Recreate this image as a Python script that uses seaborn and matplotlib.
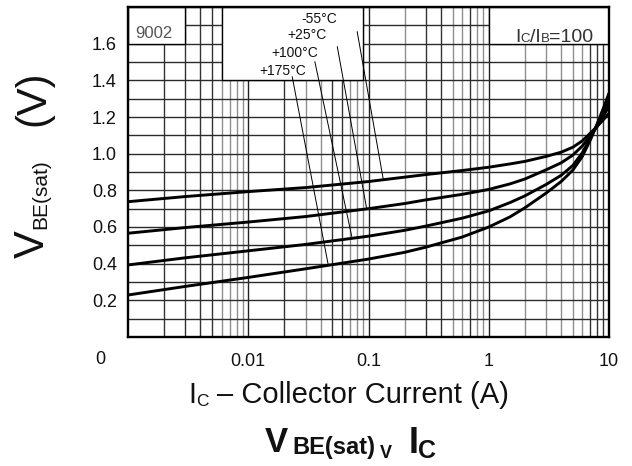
import numpy as np
import pandas as pd
import matplotlib
matplotlib.use("Agg")
import matplotlib.pyplot as plt
import seaborn as sns
from matplotlib.transforms import IdentityTransform
from matplotlib.patches import Rectangle
from matplotlib.ticker import LogLocator, NullFormatter, MultipleLocator

# ---------------- data ----------------
ic = [0.001, 0.003, 0.01, 0.03, 0.1, 0.2, 0.3, 0.6, 1, 1.5, 2, 3, 4, 5, 6, 7, 8, 9, 10]
v_m55 = [0.738, 0.766, 0.793, 0.815, 0.848, 0.872, 0.886, 0.908, 0.926, 0.944, 0.958,
         0.985, 1.008, 1.035, 1.070, 1.112, 1.150, 1.186, 1.220]
v_p25 = [0.566, 0.597, 0.627, 0.657, 0.700, 0.728, 0.748, 0.778, 0.805, 0.835, 0.862,
         0.912, 0.950, 0.992, 1.042, 1.097, 1.150, 1.205, 1.260]
v_p100 = [0.393, 0.432, 0.470, 0.505, 0.550, 0.582, 0.605, 0.648, 0.688, 0.733, 0.770,
          0.832, 0.882, 0.935, 1.005, 1.085, 1.160, 1.225, 1.290]
v_p175 = [0.229, 0.276, 0.325, 0.372, 0.425, 0.462, 0.490, 0.545, 0.600, 0.655, 0.705,
          0.785, 0.848, 0.910, 0.985, 1.075, 1.165, 1.250, 1.330]
temps = ["-55°C", "+25°C", "+100°C", "+175°C"]

x_ticks = [0.01, 0.1, 1, 10]
x_ticklabels = ["0.01", "0.1", "1", "10"]
y_ticks = [0.2, 0.4, 0.6, 0.8, 1.0, 1.2, 1.4, 1.6]
y_ticklabels = ["0.2", "0.4", "0.6", "0.8", "1.0", "1.2", "1.4", "1.6"]

# temperature label positions and leader lines (annotation layout)
label_xy = [(0.0389, 1.733), (0.0306, 1.648), (0.0244, 1.548), (0.0192, 1.453)]
leader_start = [(0.0805, 1.666), (0.055, 1.584), (0.0358, 1.502), (0.0232, 1.420)]
leader_end = [(0.1325, 0.862), (0.0964, 0.702), (0.0725, 0.549), (0.0462, 0.395)]

# ---------------- style ----------------
sns.set_style("white")
plt.rcParams["font.family"] = ["Liberation Sans", "DejaVu Sans"]
TXT = "#111111"

W, H = 632, 466
fig = plt.figure(figsize=(W / 100, H / 100), dpi=100)
fig.patch.set_facecolor("white")
ax = fig.add_axes([128 / W, 1 - 337 / H, (609 - 128) / W, (337 - 7) / H])

df = pd.DataFrame({
    "ic": ic * 4,
    "v": v_m55 + v_p25 + v_p100 + v_p175,
    "temp": np.repeat(temps, len(ic)),
})
sns.lineplot(data=df, x="ic", y="v", hue="temp", palette={t: "black" for t in temps},
             legend=False, errorbar=None, linewidth=2.1, ax=ax, zorder=5)
for ln in ax.lines:
    ln.set_solid_joinstyle("round")

ax.set_xscale("log")
ax.set_xlim(0.001, 10)
ax.set_ylim(0, 1.8)
ax.set_xlabel("")
ax.set_ylabel("")

ax.set_xticks(x_ticks, x_ticklabels)
ax.xaxis.set_minor_locator(LogLocator(base=10, subs=range(2, 10), numticks=50))
ax.xaxis.set_minor_formatter(NullFormatter())
ax.set_yticks(y_ticks, y_ticklabels)
ax.yaxis.set_minor_locator(MultipleLocator(0.1))

ax.tick_params(which="both", length=0)
ax.tick_params(axis="x", labelsize=13, pad=11.5, labelcolor=TXT)
ax.tick_params(axis="y", labelsize=13, pad=8, labelcolor=TXT)

ax.set_axisbelow(True)
ax.grid(which="major", axis="x", color="#222222", lw=1.0)
ax.grid(which="minor", axis="x", color="#8f8f8f", lw=1.0)
ax.grid(which="both", axis="y", color="#2b2b2b", lw=1.0)

# some minor vertical lines print darker in the reference
dark_minor = [0.002, 0.003, 0.004, 0.005, 0.02, 0.05, 0.06, 0.3, 0.4, 0.7, 7, 8, 9]
locs = ax.xaxis.get_minorticklocs()
mticks = ax.xaxis.get_minor_ticks(len(locs))
for loc, t in zip(locs, mticks):
    if any(np.isclose(loc, d) for d in dark_minor):
        t.gridline.set_color("#333333")

for s in ax.spines.values():
    s.set_visible(True)
    s.set_color("black")
    s.set_linewidth(1.7)
    s.set_zorder(10)

# white boxes in the top area
for (x0, y0, w, h) in [(0.001, 1.6, 0.002, 0.2), (0.006, 1.4, 0.084, 0.4), (1, 1.6, 9, 0.2)]:
    ax.add_patch(Rectangle((x0, y0), w, h, facecolor="white", edgecolor="black",
                           lw=1.0, zorder=3))

ax.text(0.00164, 1.658, "9002", fontsize=12, color="#555555", ha="center", va="center", zorder=7)

for t, (lx, ly), st, en in zip(temps, label_xy, leader_start, leader_end):
    ax.text(lx, ly, t, fontsize=10, color=TXT, ha="center", va="center", zorder=7)
    ax.annotate("", xy=en, xytext=st,
                arrowprops=dict(arrowstyle="-", lw=0.7, color="black",
                                shrinkA=0, shrinkB=0), zorder=6)

ax.text(-0.058, -0.068, "0", transform=ax.transAxes, fontsize=13, color=TXT,
        ha="center", va="center")


def ptext(x, y, s, size, weight="normal", rot=0, color=TXT):
    fig.text(x, H - y, s, transform=IdentityTransform(), fontsize=size,
             fontweight=weight, ha="left", va="baseline", rotation=rot,
             rotation_mode="anchor", color=color)


# Ic/Ib label
ptext(515, 42, "I", 14, color="#333333")
ptext(520.5, 42, "C", 9.5, color="#333333")
ptext(529.5, 42, "/I", 14, color="#333333")
ptext(540.5, 42, "B", 9.5, color="#333333")
ptext(549, 42, "=100", 14, color="#333333")

# y label
ptext(44, 258, "V", 30, rot=90)
ptext(46, 229, "BE(sat)", 15, rot=90)
ptext(44, 126, "(V)", 30, rot=90)

# x label
ptext(188, 403, "I", 21)
ptext(196, 405.5, "C", 12.5)
ptext(217, 403, "– Collector Current (A)", 21)

# title
ptext(265, 452, "V", 25, weight="bold")
ptext(292, 454, "BE(sat)", 17, weight="bold")
ptext(380, 458, "V", 13, weight="bold")
ptext(409, 453, "I", 26, weight="bold")
ptext(418, 458, "C", 18, weight="bold")

fig.savefig("out.png", dpi=100, facecolor="white")
